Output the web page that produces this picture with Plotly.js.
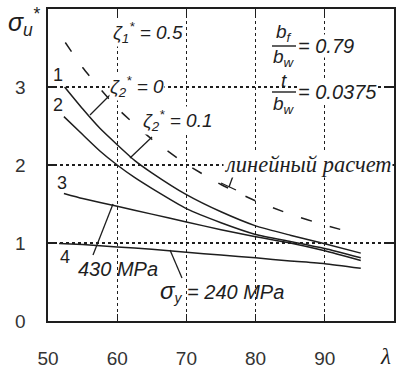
<!DOCTYPE html>
<html>
<head>
<meta charset="utf-8">
<script src="https://cdn.plot.ly/plotly-3.0.1.min.js"></script>
<style>html,body{margin:0;padding:0;background:#fff;}#chart{width:397px;height:369px;}</style>
</head>
<body>
<div id="chart"></div>
<script>
// ---- data ----
const lambda1 = [52.4, 55, 57.5, 60, 62.5, 65, 70, 75, 80, 85, 90, 95.2];
const curve1  = [3.00, 2.72, 2.47, 2.26, 2.06, 1.90, 1.62, 1.40, 1.22, 1.10, 0.99, 0.87];
const lambda2 = [52.3, 55, 57.5, 60, 62.5, 65, 70, 75, 80, 85, 90, 95.2];
const curve2  = [2.62, 2.39, 2.18, 2.00, 1.84, 1.70, 1.44, 1.26, 1.11, 1.02, 0.93, 0.81];
const lambda3 = [52.3, 55, 60, 65, 70, 75, 80, 85, 90, 95.2];
const curve3  = [1.635, 1.57, 1.47, 1.37, 1.27, 1.17, 1.08, 1.00, 0.90, 0.775];
const lambda4 = [51.6, 55, 60, 65, 70, 75, 80, 85, 90, 95.2];
const curve4  = [0.995, 0.98, 0.95, 0.92, 0.88, 0.845, 0.81, 0.77, 0.735, 0.675];
const lambdaLin = [52.5, 55, 60, 65, 70, 75, 80, 85, 90, 94.5];
const linear    = [3.57, 3.25, 2.73, 2.33, 2.01, 1.75, 1.54, 1.37, 1.23, 1.12];
const xTicks = [50, 60, 70, 80, 90];
const yTicks = [0, 1, 2, 3];
const curveLabels = ['1', '2', '3', '4'];

// ---- layout helpers ----
const L = 48, R = 3, T = 9, B = 48, W = 397, H = 369;
const PW = W - L - R, PH = H - T - B;
const px = x => (x - L) / PW;
const py = y => (H - B - y) / PH;
const INK = '#1e1e1e';
const SANS = 'Liberation Sans, Arial, sans-serif';
const SERIF = 'Liberation Serif, Times New Roman, serif';
const CLEAR = 'rgba(0,0,0,0)';

const solid = (x, y) => ({x: x, y: y, type: 'scatter', mode: 'lines',
  line: {color: INK, width: 1.5, shape: 'spline', smoothing: 0.5}, hoverinfo: 'skip', showlegend: false});

const traces = [
  solid(lambda1, curve1), solid(lambda2, curve2), solid(lambda3, curve3), solid(lambda4, curve4),
  {x: lambdaLin, y: linear, type: 'scatter', mode: 'lines',
   line: {color: INK, width: 1.5, dash: '11px,19px', shape: 'spline', smoothing: 0.5},
   hoverinfo: 'skip', showlegend: false}
];

function ann(text, x, y, size, opts) {
  return Object.assign({xref: 'paper', yref: 'paper', x: px(x), y: py(y), text: text,
    showarrow: false, font: {family: SANS, size: size, color: INK},
    xanchor: 'center', yanchor: 'middle', bgcolor: '#ffffff', borderpad: 0}, opts || {});
}
function seg(x0, y0, x1, y1, w) {
  return {type: 'line', xref: 'paper', yref: 'paper', x0: px(x0), y0: py(y0), x1: px(x1), y1: py(y1),
    line: {color: INK, width: w || 1.3}, layer: 'above'};
}

const annotations = [
  ann('<i>σ<sub>u</sub><sup>*</sup></i>', 24, 22, 25, {bgcolor: CLEAR}),
  ann('<i>λ</i>', 385, 356, 22, {font: {family: SERIF, size: 23, color: INK}, bgcolor: CLEAR}),
  ann('<i>ζ<sub>1</sub><sup>*</sup> = 0.5</i>', 148, 33, 19),
  ann('<i>ζ<sub>2</sub><sup>*</sup> = 0</i>', 137, 86, 19),
  ann('<i>ζ<sub>2</sub><sup>*</sup> = 0.1</i>', 177, 121, 19),
  ann('<i>b<sub>f</sub></i>', 284, 33, 19, {bgcolor: CLEAR}),
  ann('<i>b<sub>w</sub></i>', 284, 58, 19, {bgcolor: CLEAR}),
  ann('<i>= 0.79</i>', 297, 46, 20, {xanchor: 'left'}),
  ann('<i>t</i>', 284, 81, 19, {bgcolor: CLEAR}),
  ann('<i>b<sub>w</sub></i>', 284, 105, 19, {bgcolor: CLEAR}),
  ann('<i>= 0.0375</i>', 297, 92, 20, {xanchor: 'left'}),
  ann('<i>линейный расчет</i>', 308, 164, 22.5, {font: {family: SERIF, size: 22.5, color: INK}}),
  ann('<i>430 MPa</i>', 118, 269, 20, {bgcolor: CLEAR}),
  ann('<i><span style="font-size:24px">σ</span><sub>y</sub> = 240 MPa</i>', 222, 291, 20, {bgcolor: CLEAR}),
  ann(curveLabels[0], 58, 75, 18, {bgcolor: CLEAR}),
  ann(curveLabels[1], 58, 105, 18, {bgcolor: CLEAR}),
  ann(curveLabels[2], 62, 183, 18, {bgcolor: CLEAR}),
  ann(curveLabels[3], 65, 257, 18, {bgcolor: CLEAR})
];

const shapes = [
  {type: 'rect', xref: 'paper', yref: 'paper', x0: px(268), x1: px(298), y0: py(118), y1: py(18),
   fillcolor: '#fff', line: {width: 0}, layer: 'between'},
  seg(272, 46, 296, 46, 1.4),
  seg(272, 92, 296, 92, 1.4),
  seg(110, 95, 90, 115),
  seg(152, 137, 130, 158),
  seg(93, 255, 113, 204),
  seg(182, 278, 170, 250),
  seg(233, 176, 229, 187),
  seg(221, 183, 236, 190)
];

const axisCommon = {showline: true, linecolor: INK, linewidth: 1.6, mirror: 'ticks',
  ticks: 'inside', ticklen: 7, tickcolor: INK, tickwidth: 1.3,
  showgrid: true, gridcolor: INK, gridwidth: 1.2, griddash: '3px,3px', zeroline: false,
  tickfont: {family: SANS, size: 19, color: '#333'}};

const layout = {
  width: W, height: H,
  margin: {l: L, r: R, t: T, b: B, pad: 0},
  paper_bgcolor: '#fff', plot_bgcolor: '#fff',
  showlegend: false,
  xaxis: Object.assign({}, axisCommon, {range: [50, 100], tickvals: xTicks, ticktext: xTicks.map(String), ticklabelstandoff: 20}),
  yaxis: Object.assign({}, axisCommon, {range: [0, 4], tickvals: yTicks, ticktext: yTicks.map(String), ticklabelstandoff: 17}),
  annotations: annotations,
  shapes: shapes
};

Plotly.newPlot('chart', traces, layout, {staticPlot: true, displayModeBar: false});
</script>
</body>
</html>
